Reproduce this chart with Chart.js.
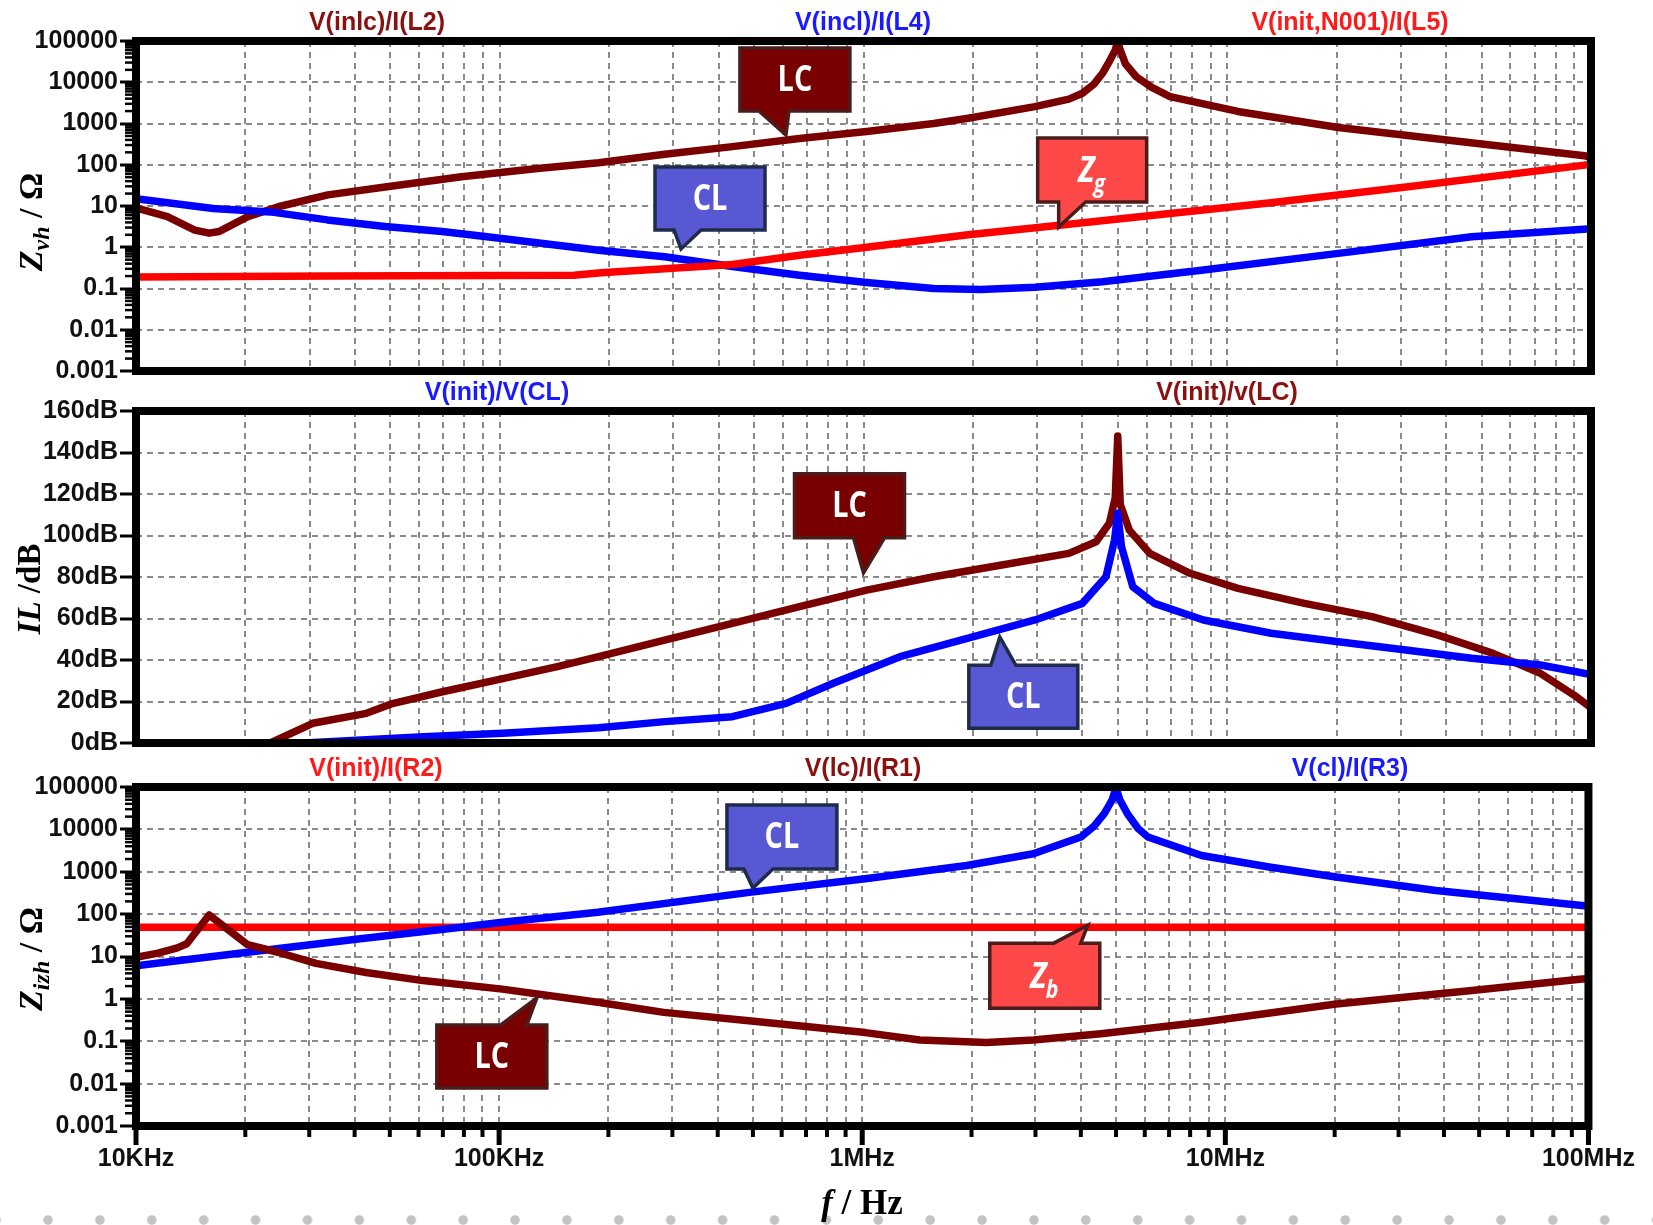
<!DOCTYPE html>
<html>
<head>
<meta charset="utf-8">
<script src="https://cdn.jsdelivr.net/npm/chart.js@4.4.1/dist/chart.umd.min.js"></script>
<style>
html,body{margin:0;padding:0;background:#fff;width:1653px;height:1225px;overflow:hidden;}
#wrap{position:relative;width:1653px;height:1225px;}
canvas{position:absolute;left:0;top:0;width:1653px;height:1225px;}
#dots{position:absolute;left:0;top:1214px;width:1653px;height:12px;
  background-image:radial-gradient(circle at 6px 6px,#c3c3c3 4.3px,rgba(255,255,255,0) 5.2px);
  background-size:51.9px 12px;background-position:42px 0;background-repeat:repeat-x;}
</style>
</head>
<body>
<div id="wrap">
  <div id="dots"></div>
  <canvas id="c1" width="1653" height="1225"></canvas>
  <canvas id="c2" width="1653" height="1225"></canvas>
  <canvas id="c3" width="1653" height="1225"></canvas>
</div>
<script>
// ---------- axes / ticks ----------
const xDecades = [1e4, 1e5, 1e6, 1e7, 1e8];
const xDecadeLabels = ['10KHz', '100KHz', '1MHz', '10MHz', '100MHz'];
const logMultipliers = [1, 2, 3, 4, 5, 6, 7, 8, 9];
const zTicks = [0.001, 0.01, 0.1, 1, 10, 100, 1000, 10000, 100000];
const zTickLabels = ['0.001', '0.01', '0.1', '1', '10', '100', '1000', '10000', '100000'];
const ilTicks = [0, 20, 40, 60, 80, 100, 120, 140, 160];
const ilTickLabels = ['0dB', '20dB', '40dB', '60dB', '80dB', '100dB', '120dB', '140dB', '160dB'];

// ---------- top panel: Z_vh ----------
const zvhLC_f = [1e4, 1.22e4, 1.45e4, 1.59e4, 1.69e4, 2.03e4, 2.46e4, 3.37e4, 4.84e4, 7.85e4, 1.27e5, 1.87e5, 2.84e5, 4.36e5, 6.67e5, 1.02e6, 1.56e6, 1.94e6, 2.96e6, 3.67e6, 4.0e6, 4.3e6, 4.54e6, 4.75e6, 4.92e6, 5.0e6, 5.08e6, 5.25e6, 5.62e6, 6.2e6, 6.96e6, 1.07e7, 2.02e7, 3.8e7, 9.6e7, 1e8];
const zvhLC_v = [9, 5.5, 2.6, 2.2, 2.4, 5.5, 9.6, 18.6, 29, 51, 81, 112, 180, 275, 435, 640, 1000, 1340, 2560, 3900, 5400, 9000, 16500, 33000, 60000, 100000, 60000, 28000, 13600, 7500, 4500, 1960, 800, 420, 165, 152];
const zvhCL_f = [1e4, 1.63e4, 2.34e4, 3.36e4, 4.84e4, 6.95e4, 1e5, 1.87e5, 2.84e5, 4.36e5, 6.67e5, 1.02e6, 1.56e6, 2.1e6, 2.96e6, 4.54e6, 8.6e6, 2.02e7, 4.7e7, 1e8];
const zvhCL_v = [15, 8.7, 7.2, 4.6, 3.2, 2.4, 1.65, 0.85, 0.59, 0.34, 0.21, 0.14, 0.10, 0.095, 0.107, 0.146, 0.28, 0.71, 1.8, 2.8];
const zvhZg_f = [1e4, 3.4e4, 1.6e5, 1.9e5, 4.36e5, 6.67e5, 1.02e6, 1.94e6, 3.67e6, 6.96e6, 1.32e7, 3.1e7, 9.6e7, 1e8];
const zvhZg_v = [0.19, 0.2, 0.21, 0.24, 0.38, 0.64, 1.0, 2.0, 3.6, 6.6, 12, 29, 98, 100];

// ---------- middle panel: IL ----------
const ilLC_f = [2.34e4, 3.06e4, 4.3e4, 5.07e4, 6.96e4, 1.02e5, 1.44e5, 1.87e5, 2.84e5, 4.36e5, 6.67e5, 1.02e6, 1.56e6, 2.4e6, 3.67e6, 4.36e6, 4.74e6, 4.92e6, 5.0e6, 5.08e6, 5.38e6, 6.12e6, 7.9e6, 1.07e7, 1.63e7, 2.5e7, 3.8e7, 5.38e7, 7.26e7, 9e7, 1e8];
const ilLC_v = [0, 9.5, 14.3, 19, 24.7, 31, 36.8, 41.6, 49.6, 57.7, 65.7, 73.7, 80.1, 85.8, 91.4, 97, 105.9, 118, 148, 115, 102.6, 91.4, 81.8, 74.5, 67.3, 60.9, 52, 43.2, 33.6, 23, 17];
const ilCL_f = [2.9e4, 6.17e4, 1.02e5, 1.87e5, 2.84e5, 4.36e5, 6.13e5, 8.26e5, 1.26e6, 1.94e6, 2.96e6, 4.0e6, 4.64e6, 4.9e6, 5.0e6, 5.12e6, 5.5e6, 6.3e6, 8.6e6, 1.32e7, 2.02e7, 3.1e7, 4.7e7, 7.26e7, 1e8];
const ilCL_v = [0, 3, 4.7, 7.4, 10.3, 12.7, 19.1, 28.8, 41.6, 50.5, 59.3, 67.3, 80.1, 97.8, 110.7, 94.6, 75.3, 67.3, 59.3, 52.9, 48.8, 44.8, 40.8, 37.6, 33];

// ---------- bottom panel: Z_izh ----------
const zizhCL_f = [1e4, 2.03e4, 4.09e4, 7.85e4, 1.02e5, 1.87e5, 4.95e5, 1.02e6, 1.94e6, 2.96e6, 4.0e6, 4.35e6, 4.64e6, 4.88e6, 5.0e6, 5.12e6, 5.38e6, 5.75e6, 6.12e6, 8.6e6, 1.32e7, 2.02e7, 3.8e7, 9.6e7, 1e8];
const zizhCL_v = [6, 12.6, 26, 49, 64, 111, 330, 680, 1400, 2650, 6600, 12000, 23400, 50000, 95000, 50000, 23000, 10500, 6600, 2420, 1290, 750, 360, 160, 155];
const zizhZb_f = [1e4, 1e8];
const zizhZb_v = [49, 49];
const zizhLC_f = [1e4, 1.15e4, 1.3e4, 1.38e4, 1.59e4, 2.03e4, 2.46e4, 3.13e4, 4.3e4, 6.17e4, 1.02e5, 1.87e5, 2.84e5, 4.95e5, 1.02e6, 1.44e6, 2.2e6, 2.96e6, 4.54e6, 8.6e6, 2.02e7, 4.7e7, 9.6e7, 1e8];
const zizhLC_v = [9.5, 12, 16, 20, 95, 19, 12.6, 6.9, 4.2, 2.7, 1.7, 0.83, 0.48, 0.30, 0.16, 0.107, 0.094, 0.107, 0.15, 0.28, 0.76, 1.56, 2.95, 3.0];

// ---------- styles ----------
const C_DARK = '#7a0000', C_BLUE = '#0000ff', C_RED = '#ff0000';
const GRID = '#8a8a8a';
const SANS = '"Liberation Sans", Arial, sans-serif';
const SERIF = '"Liberation Serif", "Times New Roman", serif';
const LINE_W = 7.5;
const BOX = {
  LC: {fill: '#780000', stroke: '#4a1c1c'},
  CL: {fill: '#5858d4', stroke: '#1e2c4a'},
  Z:  {fill: '#ff4848', stroke: '#4a1c1c'}
};

const xGrid = [];
xDecades.forEach(d => logMultipliers.forEach(m => { const v = d * m; if (v <= 1e8) xGrid.push(v); }));

function pairs(f, v) { return f.map((x, i) => ({x: x, y: v[i]})); }

function drawRich(ctx, segs, cx, cy, rotate, base) {
  ctx.save();
  ctx.translate(cx, cy);
  if (rotate) ctx.rotate(-Math.PI / 2);
  let total = 0;
  segs.forEach(s => { ctx.font = s.font; s.w = ctx.measureText(s.t).width; total += s.w; });
  let x = -total / 2;
  ctx.textAlign = 'left';
  ctx.textBaseline = 'alphabetic';
  segs.forEach(s => {
    ctx.font = s.font; ctx.fillStyle = s.color || '#000';
    ctx.fillText(s.t, x, base + (s.dy || 0));
    x += s.w;
  });
  ctx.restore();
}

function drawCallout(ctx, chart, c) {
  const xs = chart.scales.x, ys = chart.scales.y;
  const tx = xs.getPixelForValue(c.tip[0]), ty = ys.getPixelForValue(c.tip[1]);
  const x0 = tx + c.box[0], y0 = ty + c.box[1], x1 = tx + c.box[2], y1 = ty + c.box[3];
  const b0 = tx + c.base[0], b1 = tx + c.base[1];
  const st = BOX[c.kind];
  ctx.save();
  ctx.beginPath();
  ctx.moveTo(x0, y0);
  if (c.side === 'top') { ctx.lineTo(b0, y0); ctx.lineTo(tx, ty); ctx.lineTo(b1, y0); }
  ctx.lineTo(x1, y0);
  ctx.lineTo(x1, y1);
  if (c.side === 'bottom') { ctx.lineTo(b1, y1); ctx.lineTo(tx, ty); ctx.lineTo(b0, y1); }
  ctx.lineTo(x0, y1);
  ctx.closePath();
  ctx.fillStyle = st.fill; ctx.fill();
  ctx.lineWidth = 3.5; ctx.strokeStyle = st.stroke; ctx.lineJoin = 'miter'; ctx.stroke();
  const cx = (x0 + x1) / 2, cy = (y0 + y1) / 2;
  ctx.fillStyle = '#fff';
  ctx.textBaseline = 'middle';
  if (!c.sub) {
    ctx.translate(cx, cy + 1);
    ctx.scale(0.8, 1);
    ctx.font = 'bold 36px "Open Sans", ' + SANS;
    ctx.textAlign = 'center';
    ctx.fillText(c.text, 0, 0);
  } else {
    ctx.translate(cx, cy);
    ctx.scale(0.85, 1);
    ctx.font = 'italic bold 36px "Open Sans", ' + SANS;
    const wz = ctx.measureText(c.text).width;
    ctx.font = 'italic bold 25px "Open Sans", ' + SANS;
    const ws = ctx.measureText(c.sub).width;
    const sx = -(wz + ws) / 2;
    ctx.textAlign = 'left';
    ctx.textBaseline = 'alphabetic';
    ctx.font = 'italic bold 36px "Open Sans", ' + SANS;
    ctx.fillText(c.text, sx, 12);
    ctx.font = 'italic bold 25px "Open Sans", ' + SANS;
    ctx.fillText(c.sub, sx + wz - 1, 22);
  }
  ctx.restore();
}

function decor(cfg) {
  return {
    id: 'decor_' + cfg.id,
    afterDatasetsDraw(chart) {
      const ctx = chart.ctx;
      const a = chart.chartArea;
      const xs = chart.scales.x, ys = chart.scales.y;
      ctx.save();
      ctx.strokeStyle = '#000';
      if (cfg.minorY) {
        ctx.lineWidth = 2.5;
        zTicks.forEach(d => logMultipliers.forEach(m => {
          const v = d * m;
          if (m === 1 || v > 1e5) return;
          const p = ys.getPixelForValue(v);
          ctx.beginPath(); ctx.moveTo(a.left - 11, p); ctx.lineTo(a.left, p); ctx.stroke();
        }));
      }
      if (cfg.bottomTicks) {
        xGrid.forEach(v => {
          const p = xs.getPixelForValue(v);
          const major = xDecades.indexOf(v) >= 0;
          ctx.lineWidth = major ? 5 : 4;
          ctx.beginPath(); ctx.moveTo(p, a.bottom); ctx.lineTo(p, a.bottom + (major ? 19 : 11)); ctx.stroke();
        });
      }
      ctx.lineWidth = 8;
      ctx.lineJoin = 'miter';
      ctx.strokeRect(a.left, a.top, a.right - a.left, a.bottom - a.top);
      ctx.restore();
    },
    afterDraw(chart) {
      const ctx = chart.ctx;
      const a = chart.chartArea;
      cfg.callouts.forEach(c => drawCallout(ctx, chart, c));
      ctx.save();
      ctx.font = 'bold 25px ' + SANS;
      ctx.textAlign = 'center';
      ctx.textBaseline = 'middle';
      cfg.labels.forEach(l => { ctx.fillStyle = l.color; ctx.fillText(l.text, l.x, a.top - 18); });
      ctx.restore();
      cfg.titles.forEach(t => drawRich(ctx, t.segs, t.x, t.y, t.rotate, t.base));
    }
  };
}

function makePanel(cfg) {
  return new Chart(document.getElementById(cfg.id), {
    type: 'line',
    data: {
      datasets: cfg.datasets.map(d => ({
        label: d.label, data: pairs(d.f, d.v), borderColor: d.color, backgroundColor: d.color,
        borderWidth: LINE_W, pointRadius: 0, fill: false, tension: 0, order: d.order,
        borderJoinStyle: 'round', borderCapStyle: 'butt'
      }))
    },
    options: {
      responsive: false, animation: false, events: [],
      layout: {padding: {left: 0, right: 62, top: cfg.top, bottom: cfg.padBottom}},
      plugins: {legend: {display: false}, tooltip: {enabled: false}, title: {display: false}},
      scales: {
        x: {
          type: 'logarithmic', min: 1e4, max: 1e8,
          afterBuildTicks: s => { s.ticks = xGrid.map(v => ({value: v})); },
          afterFit: s => { s.height = cfg.xHeight; },
          ticks: {
            display: cfg.showX, autoSkip: false, maxRotation: 0, minRotation: 0, padding: 18,
            color: '#111', font: {family: SANS, size: 25, weight: 'bold'},
            callback: v => { const i = xDecades.indexOf(v); return i >= 0 ? xDecadeLabels[i] : ''; }
          },
          grid: {color: GRID, lineWidth: 2, drawTicks: false},
          border: {display: false, dash: [6, 5]}
        },
        y: {
          type: cfg.yType, min: cfg.yMin, max: cfg.yMax,
          afterBuildTicks: s => { s.ticks = cfg.yTicks.map(v => ({value: v})); },
          afterFit: s => { s.width = 136; },
          ticks: {
            autoSkip: false, padding: 2, color: '#111', font: {family: SANS, size: 25, weight: 'bold'},
            callback: v => { const i = cfg.yTicks.indexOf(v); return i >= 0 ? cfg.yTickLabels[i] : ''; }
          },
          grid: {color: GRID, lineWidth: 2, drawTicks: true, tickLength: 16, tickColor: '#000', tickWidth: 3},
          border: {display: false, dash: [6, 5]}
        }
      }
    },
    plugins: [decor(cfg)]
  });
}

const titleFont = s => 'bold ' + s + 'px ' + SERIF;
const titleItal = s => 'italic bold ' + s + 'px ' + SERIF;

makePanel({
  id: 'c1', top: 41, padBottom: 824, xHeight: 30, showX: false,
  yType: 'logarithmic', yMin: 0.001, yMax: 100000, yTicks: zTicks, yTickLabels: zTickLabels,
  minorY: true, bottomTicks: false,
  datasets: [
    {label: 'V(inlc)/I(L2)', f: zvhLC_f, v: zvhLC_v, color: C_DARK, order: 2},
    {label: 'V(incl)/I(L4)', f: zvhCL_f, v: zvhCL_v, color: C_BLUE, order: 1},
    {label: 'V(init,N001)/I(L5)', f: zvhZg_f, v: zvhZg_v, color: C_RED, order: 0}
  ],
  labels: [
    {text: 'V(inlc)/I(L2)', color: '#8b1010', x: 377},
    {text: 'V(incl)/I(L4)', color: '#1a1aff', x: 863},
    {text: 'V(init,N001)/I(L5)', color: '#ff1a1a', x: 1350}
  ],
  callouts: [
    {kind: 'LC', text: 'LC', tip: [6.12e5, 526], box: [-46, -87, 64, -24], base: [-27, 3], side: 'bottom'},
    {kind: 'CL', text: 'CL', tip: [3.15e5, 0.91], box: [-26, -82, 84, -19], base: [-7, 20], side: 'bottom'},
    {kind: 'Z', text: 'Z', sub: 'g', tip: [3.44e6, 3.1], box: [-21, -89, 88, -25], base: [0, 27], side: 'bottom'}
  ],
  titles: [
    {x: 31, y: 222, rotate: true, base: 11, segs: [
      {t: 'Z', font: titleItal(34)}, {t: 'vh', font: titleItal(24), dy: 7},
      {t: ' / ', font: titleFont(34)}, {t: 'Ω', font: titleFont(34)}]}
  ]
});

makePanel({
  id: 'c2', top: 411, padBottom: 452, xHeight: 30, showX: false,
  yType: 'linear', yMin: 0, yMax: 160, yTicks: ilTicks, yTickLabels: ilTickLabels,
  minorY: false, bottomTicks: false,
  datasets: [
    {label: 'V(init)/v(LC)', f: ilLC_f, v: ilLC_v, color: C_DARK, order: 1},
    {label: 'V(init)/V(CL)', f: ilCL_f, v: ilCL_v, color: C_BLUE, order: 0}
  ],
  labels: [
    {text: 'V(init)/V(CL)', color: '#1a1aff', x: 497},
    {text: 'V(init)/v(LC)', color: '#8b1010', x: 1227}
  ],
  callouts: [
    {kind: 'LC', text: 'LC', tip: [1.0e6, 82], box: [-69, -99, 41, -35], base: [-10, 21], side: 'bottom'},
    {kind: 'CL', text: 'CL', tip: [2.37e6, 51], box: [-31, 28, 78, 91], base: [-9, 16], side: 'top'}
  ],
  titles: [
    {x: 29, y: 589, rotate: true, base: 11, segs: [
      {t: 'IL', font: titleItal(33)}, {t: ' /dB', font: titleFont(33)}]}
  ]
});

makePanel({
  id: 'c3', top: 787, padBottom: 39, xHeight: 60, showX: true,
  yType: 'logarithmic', yMin: 0.001, yMax: 100000, yTicks: zTicks, yTickLabels: zTickLabels,
  minorY: true, bottomTicks: true,
  datasets: [
    {label: 'V(lc)/I(R1)', f: zizhLC_f, v: zizhLC_v, color: C_DARK, order: 0},
    {label: 'V(cl)/I(R3)', f: zizhCL_f, v: zizhCL_v, color: C_BLUE, order: 1},
    {label: 'V(init)/I(R2)', f: zizhZb_f, v: zizhZb_v, color: C_RED, order: 2}
  ],
  labels: [
    {text: 'V(init)/I(R2)', color: '#ff1a1a', x: 376},
    {text: 'V(lc)/I(R1)', color: '#8b1010', x: 863},
    {text: 'V(cl)/I(R3)', color: '#1a1aff', x: 1350}
  ],
  callouts: [
    {kind: 'CL', text: 'CL', tip: [5.0e5, 414], box: [-26, -83, 84, -19], base: [-9, 20], side: 'bottom'},
    {kind: 'Z', text: 'Z', sub: 'b', tip: [4.18e6, 55], box: [-98, 18, 12, 83], base: [-34, -7], side: 'top'},
    {kind: 'LC', text: 'LC', tip: [1.27e5, 1.05], box: [-100, 27, 10, 90], base: [-36, -10], side: 'top'}
  ],
  titles: [
    {x: 31, y: 959, rotate: true, base: 11, segs: [
      {t: 'Z', font: titleItal(34)}, {t: 'izh', font: titleItal(24), dy: 7},
      {t: ' / ', font: titleFont(34)}, {t: 'Ω', font: titleFont(34)}]},
    {x: 862, y: 1202, rotate: false, base: 12, segs: [
      {t: 'f', font: titleItal(35)}, {t: ' / Hz', font: titleFont(35)}]}
  ]
});
</script>
</body>
</html>
